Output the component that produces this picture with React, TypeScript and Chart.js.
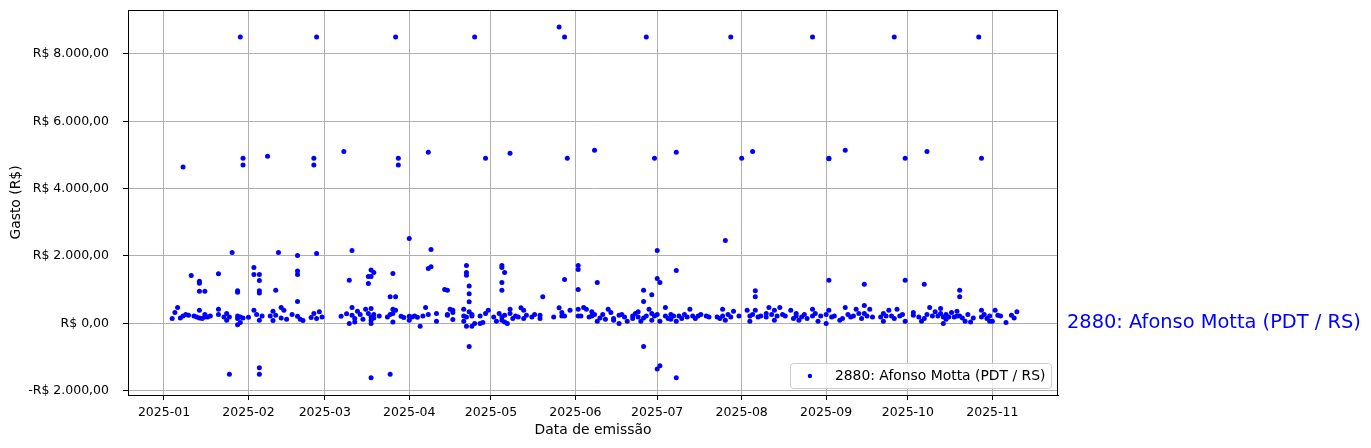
import React, { useEffect, useRef } from "react";
import { Chart, registerables } from "chart.js";

Chart.register(...registerables);

const seriesLabel = "2880: Afonso Motta (PDT / RS)";
const xAxisTitle = "Data de emissão";
const yAxisTitle = "Gasto (R$)";

const monthTicks = [
  "2025-01-01", "2025-02-01", "2025-03-01", "2025-04-01", "2025-05-01", "2025-06-01",
  "2025-07-01", "2025-08-01", "2025-09-01", "2025-10-01", "2025-11-01",
];
const yTicks = [-2000, 0, 2000, 4000, 6000, 8000];
const xRange = ["2024-12-18T19:00:00Z", "2025-11-25T02:00:00Z"];
const yRange = [-2130, 9305];

type P = [string, number];

const janPoints: P[] = [
  ["2025-01-04", 140], ["2025-01-05", 320], ["2025-01-06", 470], ["2025-01-07", 160], ["2025-01-08", 220],
  ["2025-01-08", 4640], ["2025-01-09", 260], ["2025-01-10", 240], ["2025-01-11", 1420], ["2025-01-12", 220],
  ["2025-01-13", 190], ["2025-01-14", 390], ["2025-01-14", 160], ["2025-01-14", 1250], ["2025-01-14", 1190],
  ["2025-01-14", 950], ["2025-01-15", 140], ["2025-01-16", 260], ["2025-01-16", 190], ["2025-01-16", 950],
  ["2025-01-17", 190], ["2025-01-18", 220], ["2025-01-21", 420], ["2025-01-21", 1470], ["2025-01-21", 260],
  ["2025-01-23", 190], ["2025-01-24", 290], ["2025-01-24", 90], ["2025-01-25", 190], ["2025-01-25", -1510],
  ["2025-01-26", 2100], ["2025-01-28", 220], ["2025-01-28", 140], ["2025-01-28", -40], ["2025-01-28", 970],
  ["2025-01-28", 920], ["2025-01-29", 20], ["2025-01-29", 190], ["2025-01-29", 8500], ["2025-01-30", 160],
  ["2025-01-30", 4900], ["2025-01-30", 4700],
];

const febPoints: P[] = [
  ["2025-02-01", 180], ["2025-02-03", 390], ["2025-02-03", 1660], ["2025-02-03", 1450], ["2025-02-04", 260],
  ["2025-02-05", 90], ["2025-02-05", 1450], ["2025-02-05", 1270], ["2025-02-05", 970], ["2025-02-05", 900],
  ["2025-02-05", -1320], ["2025-02-05", -1510], ["2025-02-06", 220], ["2025-02-08", 4960], ["2025-02-09", 220],
  ["2025-02-10", 360], ["2025-02-10", 80], ["2025-02-11", 240], ["2025-02-11", 980], ["2025-02-12", 2100],
  ["2025-02-13", 470], ["2025-02-13", 160], ["2025-02-14", 390], ["2025-02-15", 120], ["2025-02-17", 260],
  ["2025-02-19", 2010], ["2025-02-19", 1550], ["2025-02-19", 1450], ["2025-02-19", 650], ["2025-02-19", 210],
  ["2025-02-20", 120], ["2025-02-21", 80], ["2025-02-24", 170], ["2025-02-25", 290], ["2025-02-25", 4900],
  ["2025-02-25", 4700], ["2025-02-26", 140], ["2025-02-26", 2070], ["2025-02-26", 8500], ["2025-02-27", 340],
  ["2025-02-28", 190],
];

const marPoints: P[] = [
  ["2025-03-07", 210], ["2025-03-08", 5100], ["2025-03-09", 280], ["2025-03-10", -10], ["2025-03-10", 1280],
  ["2025-03-11", 470], ["2025-03-11", 2160], ["2025-03-11", 240], ["2025-03-12", 140], ["2025-03-12", 40],
  ["2025-03-13", 360], ["2025-03-14", 260], ["2025-03-15", 120], ["2025-03-16", 420], ["2025-03-17", 290],
  ["2025-03-17", 1390], ["2025-03-17", 1180], ["2025-03-18", 190], ["2025-03-18", 90], ["2025-03-18", 440],
  ["2025-03-18", 1580], ["2025-03-18", 1390], ["2025-03-18", -1615], ["2025-03-18", -10], ["2025-03-19", 260],
  ["2025-03-19", 1510], ["2025-03-19", 160], ["2025-03-21", 220], ["2025-03-24", 190], ["2025-03-25", 260],
  ["2025-03-25", 790], ["2025-03-25", -1510], ["2025-03-26", 1480], ["2025-03-26", 420], ["2025-03-26", 290],
  ["2025-03-26", 40], ["2025-03-27", 390], ["2025-03-27", 790], ["2025-03-27", 8500], ["2025-03-28", 4900],
  ["2025-03-28", 4700], ["2025-03-29", 210], ["2025-03-30", 170],
];

const aprPoints: P[] = [
  ["2025-04-01", 210], ["2025-04-01", 90], ["2025-04-01", 2520], ["2025-04-02", 190], ["2025-04-03", 220],
  ["2025-04-04", 180], ["2025-04-05", -90], ["2025-04-06", 220], ["2025-04-07", 470], ["2025-04-08", 260],
  ["2025-04-08", 1630], ["2025-04-08", 5080], ["2025-04-09", 1680], ["2025-04-09", 2190], ["2025-04-11", 290],
  ["2025-04-11", 60], ["2025-04-14", 1000], ["2025-04-15", 980], ["2025-04-15", 240], ["2025-04-15", 260],
  ["2025-04-16", 420], ["2025-04-17", 320], ["2025-04-17", 390], ["2025-04-17", 110], ["2025-04-21", 420],
  ["2025-04-21", 220], ["2025-04-21", 60], ["2025-04-22", 190], ["2025-04-22", -90], ["2025-04-22", 1720],
  ["2025-04-22", 1510], ["2025-04-22", 1430], ["2025-04-23", 1110], ["2025-04-23", 880], ["2025-04-23", 640],
  ["2025-04-23", -690], ["2025-04-23", 340], ["2025-04-24", 220], ["2025-04-24", -90], ["2025-04-24", 260],
  ["2025-04-25", -10], ["2025-04-25", 8500], ["2025-04-27", 220], ["2025-04-27", -10], ["2025-04-28", 20],
  ["2025-04-29", 290], ["2025-04-29", 4900], ["2025-04-30", 390],
];

const mayPoints: P[] = [
  ["2025-05-02", 190], ["2025-05-03", 60], ["2025-05-04", 290], ["2025-05-05", 90], ["2025-05-05", 190],
  ["2025-05-05", 1720], ["2025-05-05", 1660], ["2025-05-05", 1210], ["2025-05-05", 980], ["2025-05-06", 1510],
  ["2025-05-06", 40], ["2025-05-06", 240], ["2025-05-07", -10], ["2025-05-08", 420], ["2025-05-08", 5050],
  ["2025-05-08", 290], ["2025-05-09", 140], ["2025-05-10", 220], ["2025-05-11", 190], ["2025-05-12", 460],
  ["2025-05-13", 390], ["2025-05-13", 140], ["2025-05-14", 240], ["2025-05-16", 190], ["2025-05-17", 260],
  ["2025-05-19", 240], ["2025-05-19", 140], ["2025-05-20", 790], ["2025-05-24", 190], ["2025-05-26", 460],
  ["2025-05-26", 8800], ["2025-05-27", 320], ["2025-05-27", 220], ["2025-05-28", 1300], ["2025-05-28", 220],
  ["2025-05-28", 8500], ["2025-05-29", 4900], ["2025-05-30", 390],
];

const junPoints: P[] = [
  ["2025-06-02", 220], ["2025-06-02", 420], ["2025-06-02", 1720], ["2025-06-02", 1600], ["2025-06-02", 1000],
  ["2025-06-03", 220], ["2025-06-04", 470], ["2025-06-05", 420], ["2025-06-06", 190], ["2025-06-07", 340],
  ["2025-06-07", 220], ["2025-06-08", 260], ["2025-06-08", 5140], ["2025-06-09", 60], ["2025-06-09", 1210],
  ["2025-06-10", 160], ["2025-06-11", 260], ["2025-06-12", 120], ["2025-06-13", 420], ["2025-06-14", 320],
  ["2025-06-15", 90], ["2025-06-15", 140], ["2025-06-17", 240], ["2025-06-17", -10], ["2025-06-18", 260],
  ["2025-06-19", 190], ["2025-06-20", 60], ["2025-06-22", 140], ["2025-06-22", 220], ["2025-06-23", 290],
  ["2025-06-24", 190], ["2025-06-24", 340], ["2025-06-25", 60], ["2025-06-26", 980], ["2025-06-26", 650],
  ["2025-06-26", -690], ["2025-06-26", 160], ["2025-06-27", 220], ["2025-06-27", 8500], ["2025-06-28", 420],
  ["2025-06-29", 850], ["2025-06-29", 290], ["2025-06-29", 90], ["2025-06-30", 220], ["2025-06-30", 4900],
];

const julPoints: P[] = [
  ["2025-07-01", 2160], ["2025-07-01", 1330], ["2025-07-01", -1360], ["2025-07-01", 260], ["2025-07-02", 1210],
  ["2025-07-02", -1260], ["2025-07-02", 60], ["2025-07-04", 470], ["2025-07-04", 220], ["2025-07-05", 140],
  ["2025-07-06", 260], ["2025-07-06", 120], ["2025-07-07", 220], ["2025-07-08", 60], ["2025-07-08", 1570],
  ["2025-07-08", -1615], ["2025-07-08", 5080], ["2025-07-09", 220], ["2025-07-10", 140], ["2025-07-11", 260],
  ["2025-07-12", 190], ["2025-07-13", 420], ["2025-07-14", 220], ["2025-07-15", 140], ["2025-07-16", 220],
  ["2025-07-17", 260], ["2025-07-19", 220], ["2025-07-20", 190], ["2025-07-23", 190], ["2025-07-24", 140],
  ["2025-07-25", 420], ["2025-07-25", 220], ["2025-07-26", 2460], ["2025-07-26", 90], ["2025-07-27", 260],
  ["2025-07-28", 190], ["2025-07-28", 8500], ["2025-07-29", 360], ["2025-07-31", 220],
];

const augPoints: P[] = [
  ["2025-08-01", 4900], ["2025-08-03", 390], ["2025-08-04", 220], ["2025-08-04", 60], ["2025-08-05", 260],
  ["2025-08-05", 5100], ["2025-08-06", 970], ["2025-08-06", 790], ["2025-08-06", 390], ["2025-08-07", 190],
  ["2025-08-08", 220], ["2025-08-10", 290], ["2025-08-10", 190], ["2025-08-11", 470], ["2025-08-12", 260],
  ["2025-08-13", 90], ["2025-08-13", 390], ["2025-08-14", 220], ["2025-08-15", 470], ["2025-08-16", 260],
  ["2025-08-17", 220], ["2025-08-19", 390], ["2025-08-20", 140], ["2025-08-21", 290], ["2025-08-21", 220],
  ["2025-08-22", 90], ["2025-08-23", 190], ["2025-08-24", 260], ["2025-08-25", 140], ["2025-08-27", 420],
  ["2025-08-27", 220], ["2025-08-27", 8500], ["2025-08-28", 290], ["2025-08-29", 60], ["2025-08-30", 220],
];

const sepPoints: P[] = [
  ["2025-09-01", 260], ["2025-09-01", -10], ["2025-09-02", 1280], ["2025-09-02", 4900], ["2025-09-02", 4890],
  ["2025-09-02", 390], ["2025-09-03", 190], ["2025-09-04", 220], ["2025-09-06", 90], ["2025-09-07", 140],
  ["2025-09-08", 470], ["2025-09-08", 5140], ["2025-09-09", 260], ["2025-09-10", 190], ["2025-09-11", 220],
  ["2025-09-12", 420], ["2025-09-13", 290], ["2025-09-14", 140], ["2025-09-15", 530], ["2025-09-15", 1160],
  ["2025-09-15", 290], ["2025-09-16", 220], ["2025-09-17", 420], ["2025-09-18", 190], ["2025-09-21", 190],
  ["2025-09-22", 290], ["2025-09-22", 60], ["2025-09-23", 220], ["2025-09-24", 390], ["2025-09-25", 220],
  ["2025-09-26", 140], ["2025-09-26", 8500], ["2025-09-27", 420], ["2025-09-28", 220], ["2025-09-29", 260],
  ["2025-09-30", 60], ["2025-09-30", 1280], ["2025-09-30", 4900],
];

const octPoints: P[] = [
  ["2025-10-03", 240], ["2025-10-03", 320], ["2025-10-05", 190], ["2025-10-06", 60], ["2025-10-07", 140],
  ["2025-10-07", 1160], ["2025-10-08", 260], ["2025-10-08", 5100], ["2025-10-09", 470], ["2025-10-10", 220],
  ["2025-10-11", 340], ["2025-10-12", 220], ["2025-10-13", 440], ["2025-10-13", 290], ["2025-10-14", -10],
  ["2025-10-14", 190], ["2025-10-15", 260], ["2025-10-15", 120], ["2025-10-16", 190], ["2025-10-17", 320],
  ["2025-10-18", 190], ["2025-10-19", 360], ["2025-10-19", 220], ["2025-10-20", 220], ["2025-10-20", 980],
  ["2025-10-20", 790], ["2025-10-21", 160], ["2025-10-22", 60], ["2025-10-23", 260], ["2025-10-24", 40],
  ["2025-10-25", 160], ["2025-10-27", 8500], ["2025-10-28", 4900], ["2025-10-28", 190], ["2025-10-28", 390],
  ["2025-10-29", 260], ["2025-10-30", 140], ["2025-10-31", 60], ["2025-10-31", 220],
];

const novPoints: P[] = [
  ["2025-11-01", 60], ["2025-11-02", 390], ["2025-11-03", 240], ["2025-11-04", 220], ["2025-11-06", 20],
  ["2025-11-08", 240], ["2025-11-09", 160], ["2025-11-10", 340],
];

const allPoints: P[] = [
  ...janPoints, ...febPoints, ...marPoints, ...aprPoints, ...mayPoints, ...junPoints,
  ...julPoints, ...augPoints, ...sepPoints, ...octPoints, ...novPoints,
];

const FONT = "'DejaVu Sans', sans-serif";

function toMs(s: string): number {
  if (s.length > 10) return Date.parse(s);
  return Date.UTC(+s.slice(0, 4), +s.slice(5, 7) - 1, +s.slice(8, 10));
}

function formatBRL(v: number): string {
  const s = Math.abs(v).toFixed(2);
  const [i, d] = s.split(".");
  const withDots = i.replace(/\B(?=(\d{3})+(?!\d))/g, ".");
  return (v < 0 ? "-" : "") + "R$ " + withDots + "," + d;
}

function formatMonth(ms: number): string {
  const d = new Date(ms);
  const m = d.getUTCMonth() + 1;
  return d.getUTCFullYear() + "-" + (m < 10 ? "0" + m : "" + m);
}

const decorPlugin = {
  id: "decor",
  afterDraw(chart: any) {
    const { ctx, chartArea } = chart;
    const { left, right, top, bottom } = chartArea;
    ctx.save();
    // frame
    ctx.strokeStyle = "#000";
    ctx.lineWidth = 1;
    ctx.strokeRect(Math.round(left) + 0.5, Math.round(top) + 0.5, Math.round(right - left) - 1, Math.round(bottom - top));

    // axis titles
    ctx.fillStyle = "#000";
    ctx.font = `13.9px ${FONT}`;
    ctx.textAlign = "center";
    ctx.textBaseline = "middle";
    ctx.fillText(xAxisTitle, (left + right) / 2, 430);
    ctx.save();
    ctx.translate(16, (top + bottom) / 2);
    ctx.rotate(-Math.PI / 2);
    ctx.fillText(yAxisTitle, 0, 0);
    ctx.restore();

    // legend (lower right)
    ctx.font = `13.9px ${FONT}`;
    const tw = ctx.measureText(seriesLabel).width;
    const boxW = 5.6 + 27.8 + 11.1 + tw + 5.6;
    const boxH = 25;
    const bx = right - 7 - boxW;
    const by = bottom - 7 - boxH;
    ctx.beginPath();
    ctx.roundRect(Math.round(bx) + 0.5, Math.round(by) + 0.5, Math.round(boxW), boxH, 3);
    ctx.fillStyle = "rgba(255,255,255,0.8)";
    ctx.fill();
    ctx.strokeStyle = "#cccccc";
    ctx.stroke();
    const cy = by + boxH / 2 + 0.5;
    ctx.beginPath();
    ctx.arc(bx + 5.6 + 13.9, cy, 2.2, 0, Math.PI * 2);
    ctx.fillStyle = "#0000ff";
    ctx.fill();
    ctx.fillStyle = "#000";
    ctx.textAlign = "left";
    ctx.textBaseline = "middle";
    ctx.fillText(seriesLabel, bx + 5.6 + 27.8 + 11.1, cy);

    // right annotation
    const y0 = chart.scales.y.getPixelForValue(0);
    ctx.font = `19.4px ${FONT}`;
    ctx.fillStyle = "#0000ff";
    ctx.textAlign = "left";
    ctx.textBaseline = "middle";
    ctx.fillText(seriesLabel, right + 9, y0);
    ctx.restore();
  },
};

export default function App() {
  const ref = useRef<HTMLCanvasElement | null>(null);

  useEffect(() => {
    if (!ref.current) return;
    const chart = new Chart(ref.current, {
      type: "scatter",
      data: {
        datasets: [
          {
            label: seriesLabel,
            data: allPoints.map(([d, v]) => ({ x: toMs(d), y: v })),
            backgroundColor: "#0000ff",
            borderColor: "#0000ff",
            borderWidth: 0,
            pointRadius: 2.5,
            pointHoverRadius: 2.5,
          },
        ],
      },
      options: {
        responsive: false,
        animation: false,
        events: [],
        layout: { padding: { top: 10, right: 313, left: 0, bottom: 0 } },
        plugins: { legend: { display: false }, tooltip: { enabled: false }, title: { display: false } },
        scales: {
          x: {
            type: "linear",
            min: toMs(xRange[0]),
            max: toMs(xRange[1]),
            afterBuildTicks: (scale: any) => {
              scale.ticks = monthTicks.map((m) => ({ value: toMs(m) }));
            },
            afterFit: (scale: any) => {
              scale.height = 53;
              scale.paddingLeft = 0;
              scale.paddingRight = 0;
            },
            ticks: {
              autoSkip: false,
              maxRotation: 0,
              padding: 5,
              color: "#000",
              font: { family: FONT, size: 12.5 },
              callback: (v: any) => formatMonth(Number(v)),
            },
            grid: { color: "#b0b0b0", lineWidth: 1, tickColor: "#000", tickLength: 5 },
            border: { display: true, color: "#000", width: 1 },
          },
          y: {
            type: "linear",
            min: yRange[0],
            max: yRange[1],
            afterBuildTicks: (scale: any) => {
              scale.ticks = yTicks.map((v) => ({ value: v }));
            },
            afterFit: (scale: any) => {
              scale.width = 128;
              scale.paddingTop = 0;
              scale.paddingBottom = 0;
            },
            ticks: {
              padding: 14,
              color: "#000",
              font: { family: FONT, size: 12.5 },
              callback: (v: any) => formatBRL(Number(v)),
            },
            grid: { color: "#b0b0b0", lineWidth: 1, tickColor: "#000", tickLength: 5 },
            border: { display: true, color: "#000", width: 1 },
          },
        },
      },
      plugins: [decorPlugin],
    });
    return () => chart.destroy();
  }, []);

  return (
    <div style={{ position: "absolute", left: 0, top: 0, width: 1371, height: 448, background: "#fff" }}>
      <canvas ref={ref} width={1371} height={448} style={{ display: "block" }} />
    </div>
  );
}
